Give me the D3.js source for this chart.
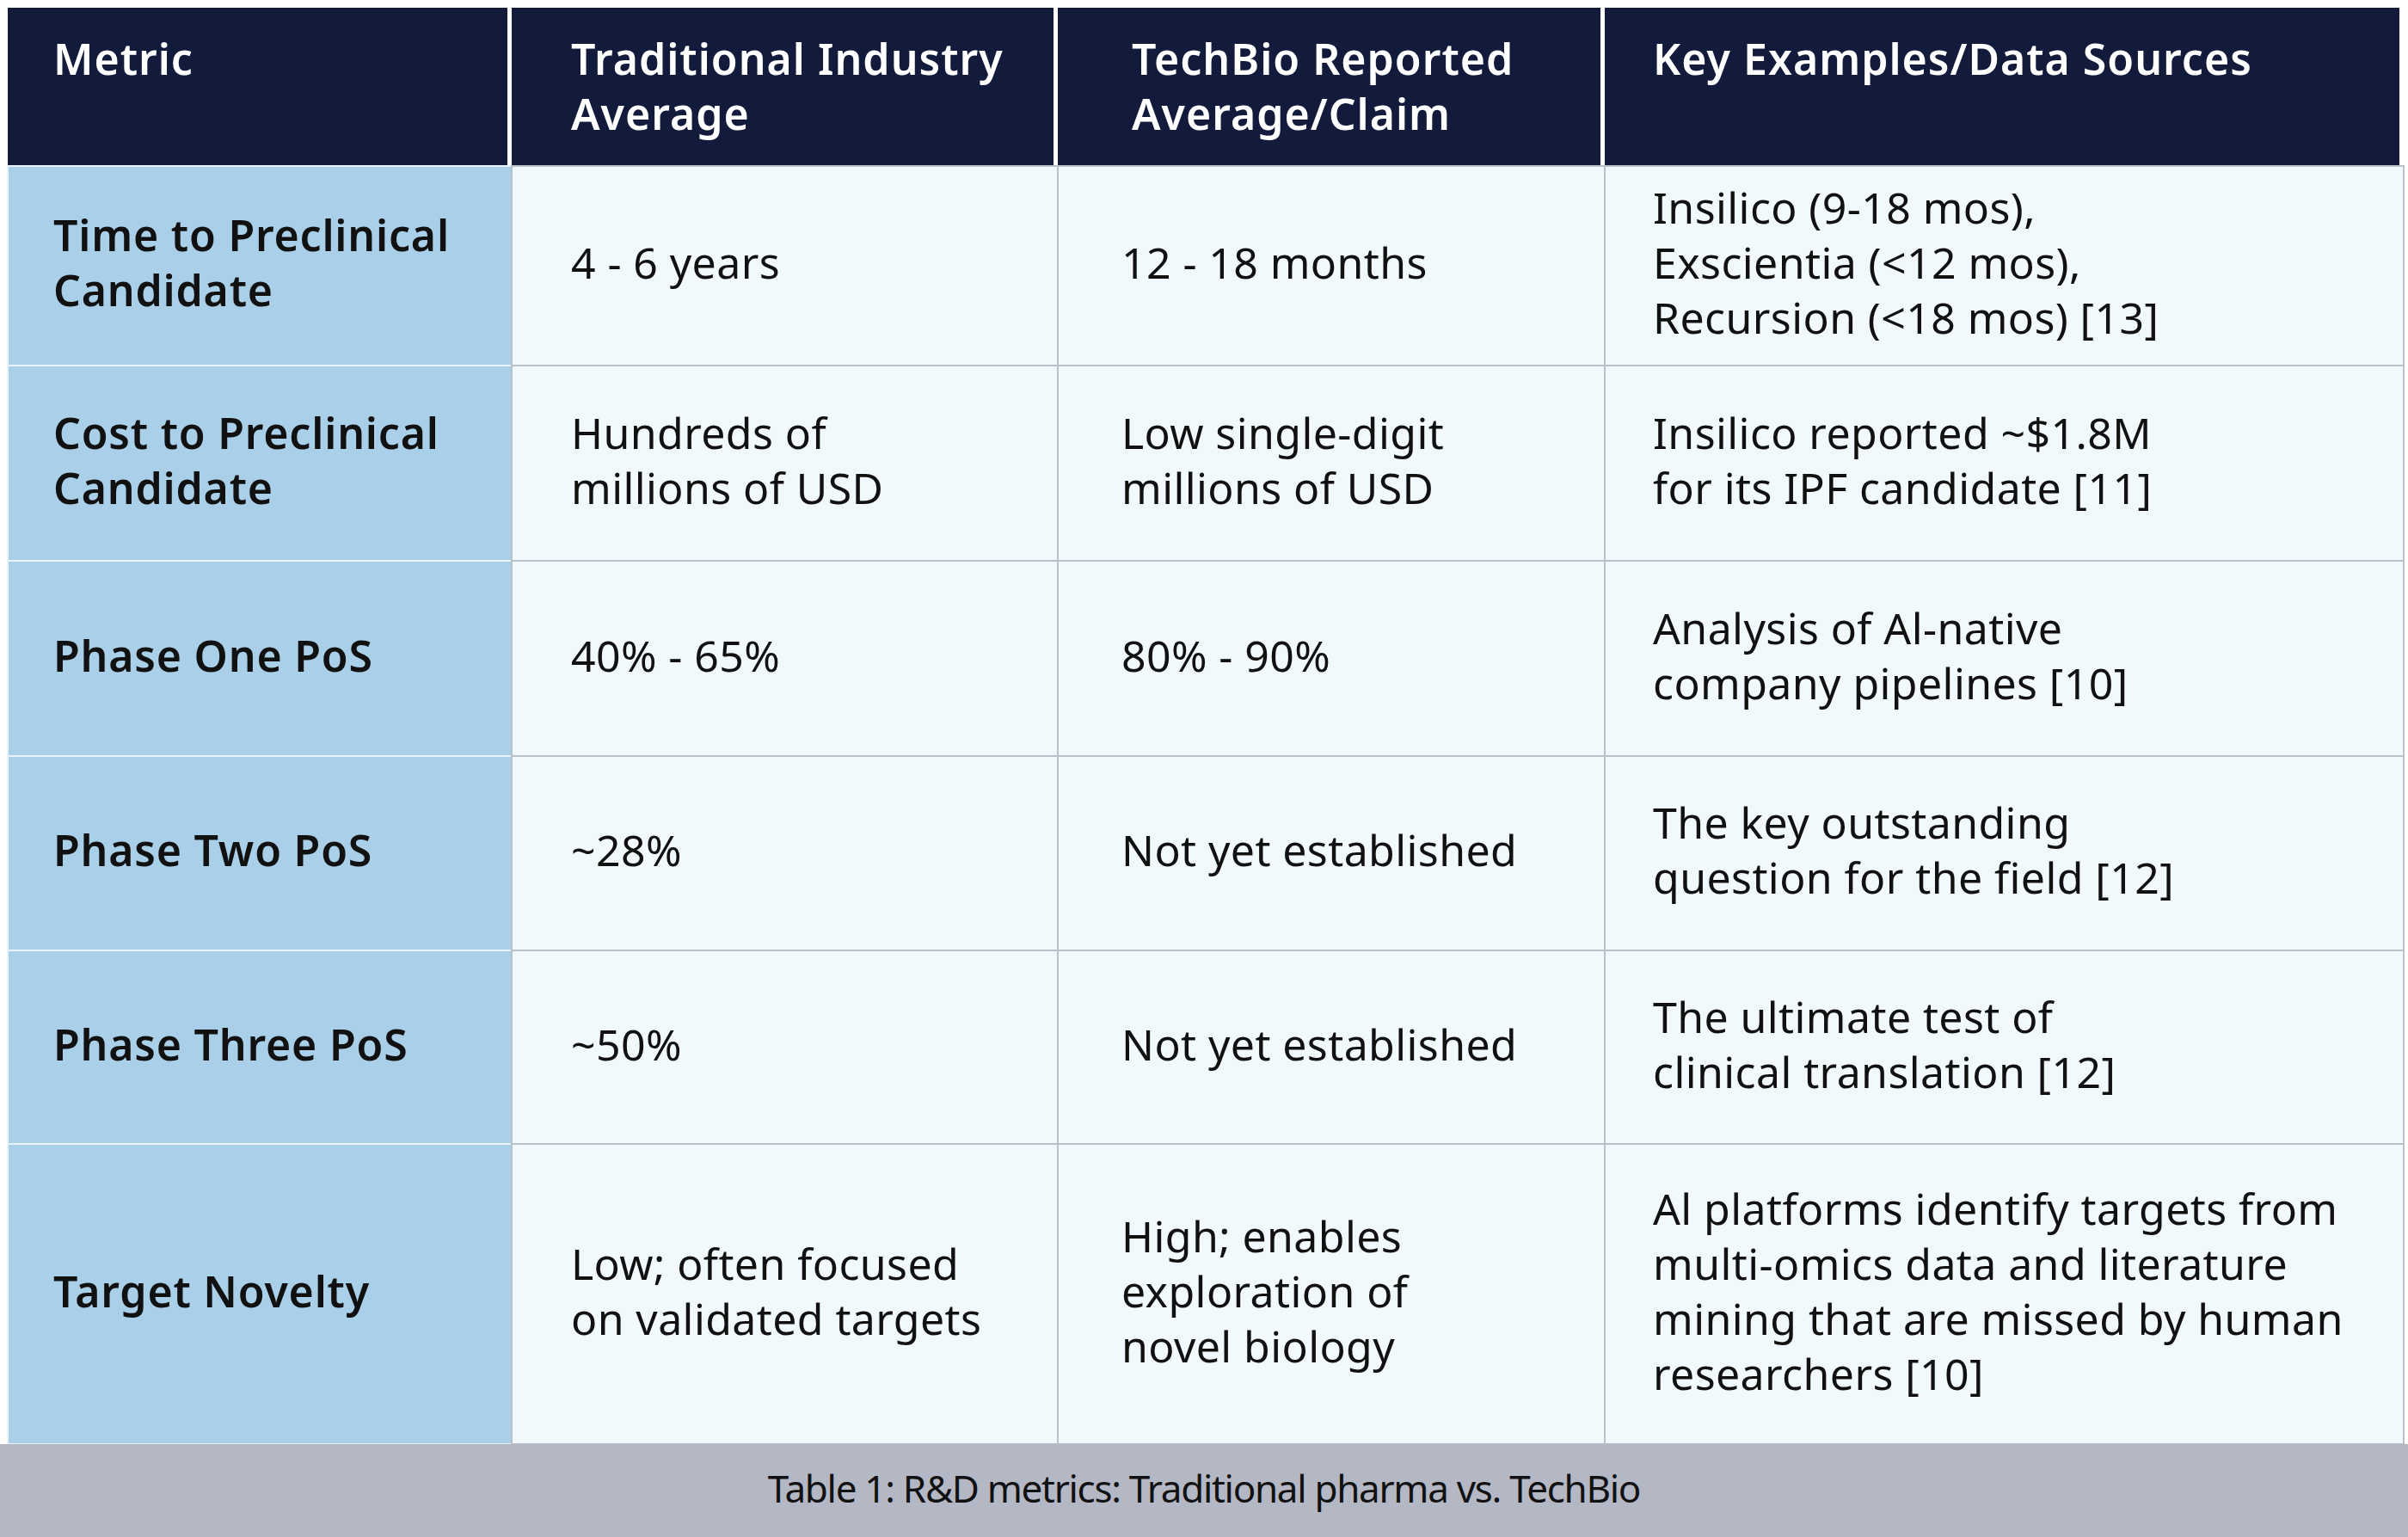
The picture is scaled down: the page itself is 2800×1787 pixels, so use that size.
<!DOCTYPE html>
<html><head><meta charset="utf-8">
<script src="https://cdn.jsdelivr.net/npm/d3@7"></script>
<style>body{margin:0;background:#fff}</style></head>
<body><svg id="c" width="2800" height="1787"></svg>
<script>
const headers = ["Metric", "Traditional Industry\nAverage", "TechBio Reported\nAverage/Claim", "Key Examples/Data Sources"];
const metrics = ["Time to Preclinical\nCandidate","Cost to Preclinical\nCandidate","Phase One PoS","Phase Two PoS","Phase Three PoS","Target Novelty"];
const traditional = ["4 - 6 years","Hundreds of\nmillions of USD","40% - 65%","~28%","~50%","Low; often focused\non validated targets"];
const techbio = ["12 - 18 months","Low single-digit\nmillions of USD","80% - 90%","Not yet established","Not yet established","High; enables\nexploration of\nnovel biology"];
const sources = ["Insilico (9-18 mos),\nExscientia (<12 mos),\nRecursion (<18 mos) [13]","Insilico reported ~$1.8M\nfor its IPF candidate [11]","Analysis of Al-native\ncompany pipelines [10]","The key outstanding\nquestion for the field [12]","The ultimate test of\nclinical translation [12]","Al platforms identify targets from\nmulti-omics data and literature\nmining that are missed by human\nresearchers [10]"];
const caption = "Table 1: R&D metrics: Traditional pharma vs. TechBio";

const svg = d3.select("#c");
const colEdges = [9, 595, 1230, 1866, 2795];
const rowEdges = [193, 425, 652, 879, 1105, 1330, 1679];
const font = "'Noto Sans', sans-serif";
const fs = 50, lh = 64, padX = [53,69,74,56], hpadX = [53,69,86,56];

svg.append("rect").attr("x",0).attr("y",0).attr("width",2800).attr("height",1787).attr("fill","#fff");
headers.forEach((h,i)=>{
  svg.append("rect").attr("x",colEdges[i]).attr("y",9).attr("width",colEdges[i+1]-colEdges[i]-5).attr("height",184).attr("fill","#131b3c");
  const t = svg.append("text").attr("font-family",font).attr("font-size",fs).attr("font-weight",600).attr("fill","#fff").attr("letter-spacing",1);
  h.split("\n").forEach((l,k)=>t.append("tspan").attr("x",colEdges[i]+hpadX[i]).attr("y",87+k*lh).text(l));
});
const cols = [metrics, traditional, techbio, sources];
metrics.forEach((m,r)=>{
  const y0 = rowEdges[r], y1 = rowEdges[r+1];
  cols.forEach((col,i)=>{
    svg.append("rect").attr("x",colEdges[i]).attr("y",y0).attr("width",colEdges[i+1]-colEdges[i]).attr("height",y1-y0)
      .attr("fill", i===0?"#a9cfe9":"#f1f9fc").attr("stroke", i===0?"#e8f2f8":"#b9c2ca").attr("stroke-width",2);
    const lines = col[r].split("\n");
    const cy = (y0+y1)/2 - (lines.length-1)*lh/2 + 15;
    const t = svg.append("text").attr("font-family",font).attr("font-size",fs).attr("font-weight",i===0?600:400).attr("fill","#111").attr("letter-spacing",i===0?0.8:0.4);
    lines.forEach((l,k)=>t.append("tspan").attr("x",colEdges[i]+padX[i]).attr("y",cy+k*lh).text(l));
  });
});
svg.append("rect").attr("x",0).attr("y",1679).attr("width",2800).attr("height",108).attr("fill","#b4b8c5");
svg.append("text").attr("x",1400).attr("y",1747).attr("text-anchor","middle").attr("font-family",font).attr("font-size",44).attr("letter-spacing",-1.3).attr("fill","#111").text(caption);
</script></body></html>
